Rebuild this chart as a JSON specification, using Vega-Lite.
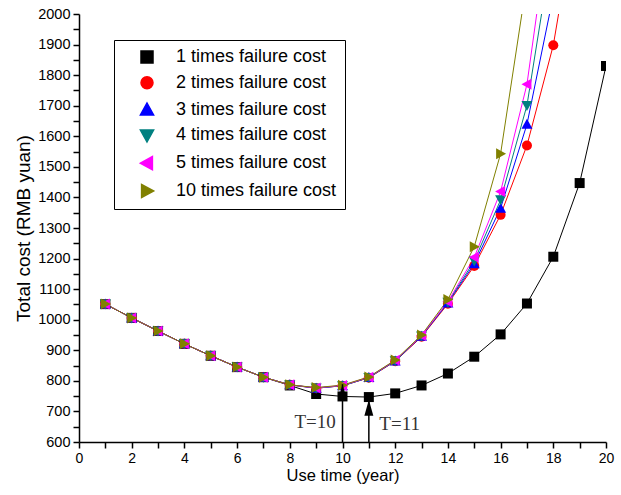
{
  "$schema": "https://vega.github.io/schema/vega-lite/v6.json",
  "autosize": "none",
  "width": 527,
  "height": 428,
  "padding": {"left": 79, "top": 14, "right": 15, "bottom": 53},
  "background": "white",
  "config": {
    "view": {"stroke": null},
    "font": "Liberation Sans",
    "axis": {"grid": false, "ticks": true, "tickSize": 6, "tickColor": "black", "tickWidth": 1.5, "domainColor": "black", "domainWidth": 1.5, "labelColor": "black", "titleColor": "black", "titleFontWeight": "normal", "labelOverlap": false, "labelFlush": false}
  },
  "datasets": {
    "costs": [
      {"t":1,"cost":1051,"series":"1 times failure cost"},{"t":2,"cost":1006,"series":"1 times failure cost"},{"t":3,"cost":963,"series":"1 times failure cost"},{"t":4,"cost":921,"series":"1 times failure cost"},{"t":5,"cost":882,"series":"1 times failure cost"},{"t":6,"cost":845,"series":"1 times failure cost"},{"t":7,"cost":812,"series":"1 times failure cost"},{"t":8,"cost":785,"series":"1 times failure cost"},{"t":9,"cost":757,"series":"1 times failure cost"},{"t":10,"cost":749,"series":"1 times failure cost"},{"t":11,"cost":747,"series":"1 times failure cost"},{"t":12,"cost":759,"series":"1 times failure cost"},{"t":13,"cost":785,"series":"1 times failure cost"},{"t":14,"cost":824,"series":"1 times failure cost"},{"t":15,"cost":879,"series":"1 times failure cost"},{"t":16,"cost":952,"series":"1 times failure cost"},{"t":17,"cost":1053,"series":"1 times failure cost"},{"t":18,"cost":1206,"series":"1 times failure cost"},{"t":19,"cost":1447,"series":"1 times failure cost"},{"t":20,"cost":1830,"series":"1 times failure cost"},
      {"t":1,"cost":1051,"series":"2 times failure cost"},{"t":2,"cost":1006,"series":"2 times failure cost"},{"t":3,"cost":963,"series":"2 times failure cost"},{"t":4,"cost":921,"series":"2 times failure cost"},{"t":5,"cost":882,"series":"2 times failure cost"},{"t":6,"cost":845,"series":"2 times failure cost"},{"t":7,"cost":812,"series":"2 times failure cost"},{"t":8,"cost":787,"series":"2 times failure cost"},{"t":9,"cost":776,"series":"2 times failure cost"},{"t":10,"cost":784,"series":"2 times failure cost"},{"t":11,"cost":810,"series":"2 times failure cost"},{"t":12,"cost":864,"series":"2 times failure cost"},{"t":13,"cost":944,"series":"2 times failure cost"},{"t":14,"cost":1052,"series":"2 times failure cost"},{"t":15,"cost":1176,"series":"2 times failure cost"},{"t":16,"cost":1343,"series":"2 times failure cost"},{"t":17,"cost":1570,"series":"2 times failure cost"},{"t":18,"cost":1898,"series":"2 times failure cost"},{"t":19,"cost":2408,"series":"2 times failure cost"},
      {"t":1,"cost":1051,"series":"3 times failure cost"},{"t":2,"cost":1006,"series":"3 times failure cost"},{"t":3,"cost":963,"series":"3 times failure cost"},{"t":4,"cost":921,"series":"3 times failure cost"},{"t":5,"cost":882,"series":"3 times failure cost"},{"t":6,"cost":845,"series":"3 times failure cost"},{"t":7,"cost":812,"series":"3 times failure cost"},{"t":8,"cost":787,"series":"3 times failure cost"},{"t":9,"cost":776,"series":"3 times failure cost"},{"t":10,"cost":784,"series":"3 times failure cost"},{"t":11,"cost":811,"series":"3 times failure cost"},{"t":12,"cost":865,"series":"3 times failure cost"},{"t":13,"cost":946,"series":"3 times failure cost"},{"t":14,"cost":1055,"series":"3 times failure cost"},{"t":15,"cost":1183,"series":"3 times failure cost"},{"t":16,"cost":1365,"series":"3 times failure cost"},{"t":17,"cost":1639,"series":"3 times failure cost"},{"t":18,"cost":2060,"series":"3 times failure cost"},
      {"t":1,"cost":1051,"series":"4 times failure cost"},{"t":2,"cost":1006,"series":"4 times failure cost"},{"t":3,"cost":963,"series":"4 times failure cost"},{"t":4,"cost":921,"series":"4 times failure cost"},{"t":5,"cost":882,"series":"4 times failure cost"},{"t":6,"cost":845,"series":"4 times failure cost"},{"t":7,"cost":812,"series":"4 times failure cost"},{"t":8,"cost":787,"series":"4 times failure cost"},{"t":9,"cost":777,"series":"4 times failure cost"},{"t":10,"cost":784,"series":"4 times failure cost"},{"t":11,"cost":811,"series":"4 times failure cost"},{"t":12,"cost":866,"series":"4 times failure cost"},{"t":13,"cost":947,"series":"4 times failure cost"},{"t":14,"cost":1057,"series":"4 times failure cost"},{"t":15,"cost":1192,"series":"4 times failure cost"},{"t":16,"cost":1392,"series":"4 times failure cost"},{"t":17,"cost":1701,"series":"4 times failure cost"},{"t":18,"cost":2240,"series":"4 times failure cost"},
      {"t":1,"cost":1051,"series":"5 times failure cost"},{"t":2,"cost":1006,"series":"5 times failure cost"},{"t":3,"cost":963,"series":"5 times failure cost"},{"t":4,"cost":921,"series":"5 times failure cost"},{"t":5,"cost":882,"series":"5 times failure cost"},{"t":6,"cost":845,"series":"5 times failure cost"},{"t":7,"cost":812,"series":"5 times failure cost"},{"t":8,"cost":787,"series":"5 times failure cost"},{"t":9,"cost":777,"series":"5 times failure cost"},{"t":10,"cost":785,"series":"5 times failure cost"},{"t":11,"cost":812,"series":"5 times failure cost"},{"t":12,"cost":867,"series":"5 times failure cost"},{"t":13,"cost":948,"series":"5 times failure cost"},{"t":14,"cost":1059,"series":"5 times failure cost"},{"t":15,"cost":1204,"series":"5 times failure cost"},{"t":16,"cost":1419,"series":"5 times failure cost"},{"t":17,"cost":1770,"series":"5 times failure cost"},{"t":18,"cost":2390,"series":"5 times failure cost"},
      {"t":1,"cost":1051,"series":"10 times failure cost"},{"t":2,"cost":1006,"series":"10 times failure cost"},{"t":3,"cost":963,"series":"10 times failure cost"},{"t":4,"cost":921,"series":"10 times failure cost"},{"t":5,"cost":882,"series":"10 times failure cost"},{"t":6,"cost":845,"series":"10 times failure cost"},{"t":7,"cost":812,"series":"10 times failure cost"},{"t":8,"cost":787,"series":"10 times failure cost"},{"t":9,"cost":778,"series":"10 times failure cost"},{"t":10,"cost":786,"series":"10 times failure cost"},{"t":11,"cost":813,"series":"10 times failure cost"},{"t":12,"cost":868,"series":"10 times failure cost"},{"t":13,"cost":950,"series":"10 times failure cost"},{"t":14,"cost":1066,"series":"10 times failure cost"},{"t":15,"cost":1239,"series":"10 times failure cost"},{"t":16,"cost":1543,"series":"10 times failure cost"},{"t":17,"cost":2110,"series":"10 times failure cost"}
    ],
    "arrows": [
      {"t": 10, "base": 600, "tip": 789, "head": 763},
      {"t": 11, "base": 600, "tip": 738, "head": 712}
    ],
    "notes": [
      {"t": 8.96, "cost": 664, "label": "T=10"},
      {"t": 12.17, "cost": 658, "label": "T=11"}
    ]
  },
  "layer": [
    {
      "data": {"name": "costs"},
      "mark": {"type": "line", "strokeWidth": 1, "clip": true},
      "encoding": {
        "x": {"field": "t", "type": "quantitative", "scale": {"domain": [0, 20], "nice": false},
          "axis": {"tickCount": 20, "ticks": true, "tickSize": 6, "tickWidth": 1.5, "tickColor": "black",
            "labelExpr": "datum.value % 2 === 0 ? format(datum.value, 'd') : ''",
            "title": "Use time (year)", "titleFontSize": 16.5, "titlePadding": 2,
            "labelFontSize": 14, "labelPadding": 3}},
        "y": {"field": "cost", "type": "quantitative", "scale": {"domain": [600, 2000], "nice": false},
          "axis": {"tickCount": 28, "ticks": true, "tickSize": 6, "tickWidth": 1.5, "tickColor": "black",
            "labelExpr": "datum.value % 100 === 0 ? format(datum.value, 'd') : ''",
            "title": "Total cost (RMB yuan)", "titleFontSize": 19, "titlePadding": 4,
            "labelFontSize": 14.5, "labelPadding": 3}},
        "color": {"field": "series", "type": "nominal",
          "scale": {"domain": ["1 times failure cost","2 times failure cost","3 times failure cost","4 times failure cost","5 times failure cost","10 times failure cost"],
            "range": ["#000000","#ff0000","#0000ff","#008080","#ff00ff","#808000"]},
          "legend": {"orient": "none", "legendX": 35, "legendY": 26, "title": null,
            "labelFont": "Liberation Sans", "labelFontSize": 18, "labelColor": "black", "labelLimit": 400, "labelOffset": 20,
            "symbolSize": 144, "rowPadding": 7.8, "padding": 8, "strokeColor": "black", "fillColor": "white",
            "symbolOffset": 16}},
        "detail": {"field": "series"}
      }
    },
    {
      "data": {"name": "costs"},
      "mark": {"type": "point", "filled": true, "opacity": 1, "size": 100, "clip": true},
      "encoding": {
        "x": {"field": "t", "type": "quantitative"},
        "y": {"field": "cost", "type": "quantitative"},
        "color": {"field": "series", "type": "nominal"},
        "shape": {"field": "series", "type": "nominal",
          "scale": {"domain": ["1 times failure cost","2 times failure cost","3 times failure cost","4 times failure cost","5 times failure cost","10 times failure cost"],
            "range": ["square","circle","M0,-1.1L1.1,0.9H-1.1Z","M0,1.1L1.1,-0.9H-1.1Z","M-1.1,0L0.9,-1.1V1.1Z","M1.1,0L-0.9,-1.1V1.1Z"]}}
      }
    },
    {
      "data": {"name": "arrows"},
      "mark": {"type": "rule", "color": "black", "strokeWidth": 1.5},
      "encoding": {
        "x": {"field": "t", "type": "quantitative"},
        "y": {"field": "base", "type": "quantitative"},
        "y2": {"field": "tip"}
      }
    },
    {
      "data": {"name": "arrows"},
      "mark": {"type": "point", "shape": "M0,-1L0.56,1L-0.56,1Z", "size": 256, "filled": true, "color": "black", "opacity": 1},
      "encoding": {
        "x": {"field": "t", "type": "quantitative"},
        "y": {"field": "head", "type": "quantitative"}
      }
    },
    {
      "data": {"name": "notes"},
      "mark": {"type": "text", "font": "Liberation Serif", "fontSize": 19, "color": "#333333", "align": "center", "baseline": "middle"},
      "encoding": {
        "x": {"field": "t", "type": "quantitative"},
        "y": {"field": "cost", "type": "quantitative"},
        "text": {"field": "label"}
      }
    }
  ]
}
